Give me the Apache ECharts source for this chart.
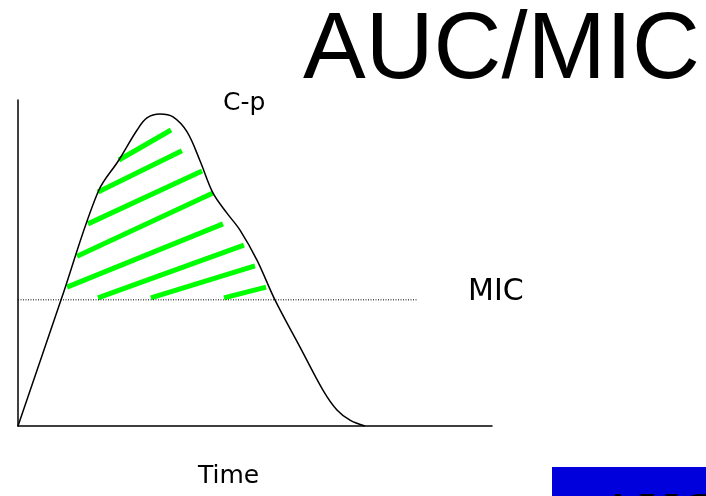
<!DOCTYPE html>
<html>
<head>
<meta charset="utf-8">
<script src="https://cdn.jsdelivr.net/npm/echarts@6/dist/echarts.min.js"></script>
<style>
html,body{margin:0;padding:0;background:#fff;}
#chart{width:706px;height:496px;}
</style>
</head>
<body>
<div id="chart"></div>
<script>
// Concentration-time curve (time in h, concentration in mg/L)
const curveTime = [0, 2.18, 4.05, 5.11, 6.03, 6.53, 7.19, 7.85, 8.56, 9.22, 9.87, 10.58, 11.24, 12.10, 13.01, 14.28, 15.44, 16.15, 16.81, 17.57];
const curveConc = [0, 3.87, 7.18, 8.16, 9.08, 9.45, 9.57, 9.48, 9.02, 8.13, 7.15, 6.53, 6.01, 5.09, 3.87, 2.42, 1.10, 0.49, 0.18, 0];
// MIC level and the extent of its dotted line
const micValue = 3.87;
const micLineEnd = 20.2;
// Green hatch strokes: start/end (time, conc)
const hatchStartT = [5.11, 4.05, 3.54, 2.99, 2.48, 4.05, 6.73, 10.43];
const hatchStartC = [8.16, 7.18, 6.20, 5.21, 4.26, 3.93, 3.93, 3.93];
const hatchEndT   = [7.75, 8.30, 9.32, 9.87, 10.38, 11.44, 12.00, 12.56];
const hatchEndC   = [9.08, 8.44, 7.82, 7.15, 6.20, 5.55, 4.91, 4.26];
// Axis extents
const timeMax = 24;
const concMax = 10;
// Texts
const titleText = 'AUC/MIC';
const yLabel = 'C-p';
const micLabel = 'MIC';
const xLabel = 'Time';
const boxText = 'AUC';

const chart = echarts.init(document.getElementById('chart'), null, {renderer: 'canvas'});
const curveData = curveTime.map((t, i) => [t, curveConc[i]]);
const hatchData = hatchStartT.map((t, i) => ({coords: [[t, hatchStartC[i]], [hatchEndT[i], hatchEndC[i]]]}));

chart.setOption({
  animation: false,
  backgroundColor: '#fff',
  grid: {left: 18, right: 214, top: 100, bottom: 70},
  xAxis: {
    type: 'value', min: 0, max: timeMax,
    axisLine: {show: true, lineStyle: {color: '#000', width: 1.5}},
    axisTick: {show: false}, axisLabel: {show: false}, splitLine: {show: false}
  },
  yAxis: {
    type: 'value', min: 0, max: concMax,
    axisLine: {show: true, lineStyle: {color: '#000', width: 1.5}},
    axisTick: {show: false}, axisLabel: {show: false}, splitLine: {show: false}
  },
  series: [
    {
      type: 'line', data: [[0, micValue], [micLineEnd, micValue]],
      showSymbol: false, silent: true,
      lineStyle: {color: '#000', width: 1, type: [1, 1.5]}
    },
    {
      type: 'lines', coordinateSystem: 'cartesian2d', data: hatchData,
      silent: true,
      lineStyle: {color: '#00ff00', width: 5, opacity: 1, cap: 'butt', curveness: 0}
    },
    {
      type: 'line', data: curveData, showSymbol: false, smooth: 0.35, silent: true,
      lineStyle: {color: '#000', width: 1.5}
    }
  ],
  graphic: [
    {type: 'text', left: 303, top: 5, style: {text: titleText, font: '94px "Liberation Sans"', fill: '#000'}},
    {type: 'text', left: 223, top: 91, style: {text: yLabel, font: '25px "DejaVu Sans"', fill: '#000'}},
    {type: 'text', left: 468, top: 277, style: {text: micLabel, font: '30px "DejaVu Sans"', fill: '#000'}},
    {type: 'text', left: 198, top: 464, style: {text: xLabel, font: '25px "DejaVu Sans"', fill: '#000'}},
    {type: 'rect', shape: {x: 552, y: 467, width: 154, height: 29}, style: {fill: '#0000dd'}},
    {type: 'text', x: 598, y: 489, style: {text: boxText, font: '56px "Liberation Serif"', fill: '#000', textVerticalAlign: 'top'}}
  ]
});
</script>
</body>
</html>
